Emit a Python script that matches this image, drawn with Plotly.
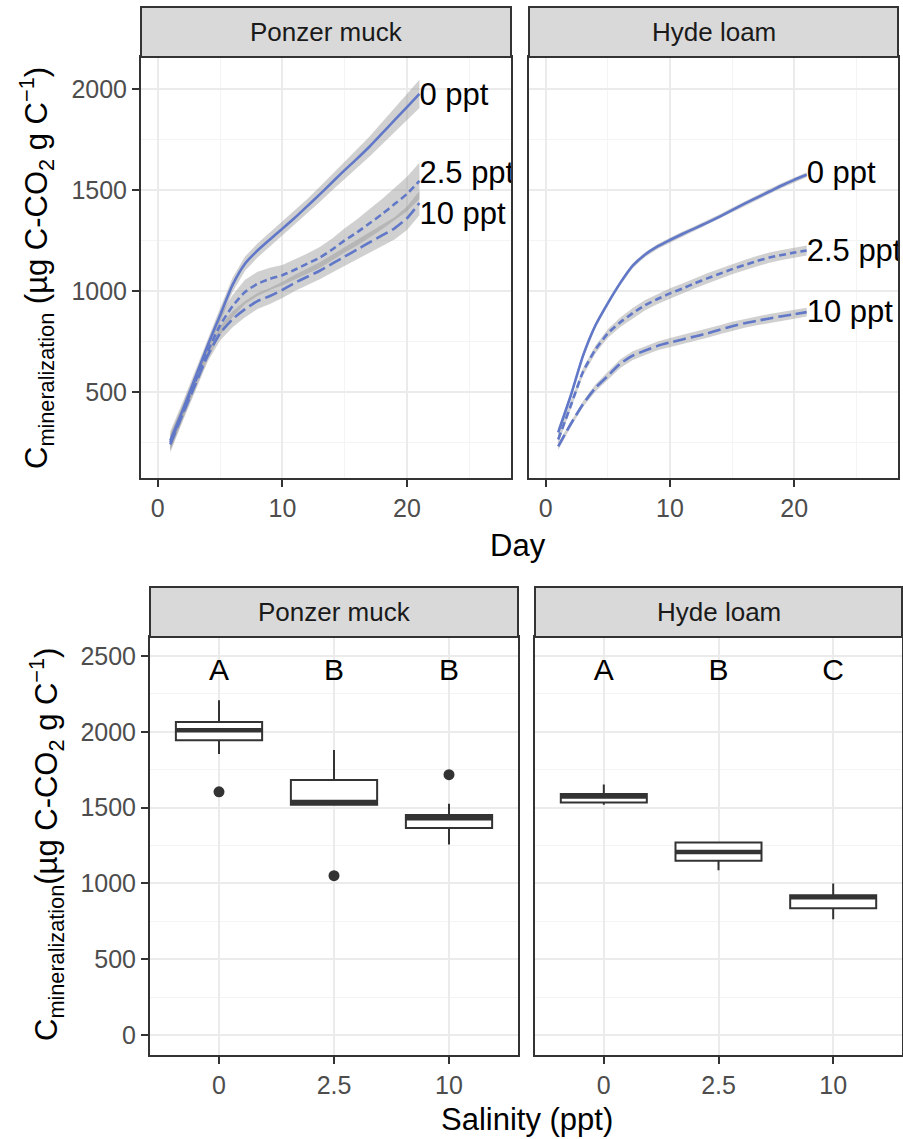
import plotly.graph_objects as go

# ---------------- data ----------------
days = list(range(1, 22))
salinity_labels = ["0 ppt", "2.5 ppt", "10 ppt"]

ponzer_0 = [260, 410, 570, 730, 880, 1030, 1135, 1200, 1255, 1308, 1362, 1420, 1478, 1538, 1598, 1655, 1715, 1780, 1845, 1910, 1975]
ponzer_25 = [250, 400, 550, 700, 830, 925, 995, 1035, 1060, 1078, 1105, 1135, 1165, 1205, 1250, 1290, 1335, 1380, 1430, 1480, 1545]
ponzer_10 = [240, 390, 535, 680, 790, 860, 910, 950, 975, 1005, 1040, 1070, 1100, 1135, 1170, 1205, 1240, 1275, 1310, 1360, 1435]
ponzer_0_se = [45, 40, 35, 35, 35, 35, 35, 35, 35, 35, 35, 35, 38, 40, 42, 45, 50, 55, 60, 65, 70]
ponzer_25_se = [40, 35, 35, 40, 50, 55, 60, 60, 55, 50, 50, 50, 52, 55, 60, 65, 70, 75, 80, 85, 90]
ponzer_10_se = [40, 35, 30, 30, 35, 40, 40, 40, 40, 40, 40, 40, 42, 44, 46, 48, 50, 52, 55, 58, 60]

hyde_0 = [300, 480, 680, 830, 940, 1040, 1125, 1180, 1220, 1252, 1282, 1310, 1338, 1368, 1400, 1432, 1462, 1492, 1522, 1550, 1575]
hyde_25 = [265, 430, 600, 710, 790, 845, 890, 930, 960, 988, 1012, 1038, 1062, 1085, 1108, 1128, 1148, 1165, 1178, 1190, 1200]
hyde_10 = [230, 340, 440, 520, 580, 640, 680, 705, 728, 745, 760, 775, 790, 808, 825, 840, 852, 864, 875, 885, 895]
hyde_0_se = [20, 15, 15, 12, 12, 12, 12, 12, 12, 12, 12, 12, 12, 12, 12, 12, 12, 12, 12, 12, 12]
hyde_25_se = [20, 18, 18, 20, 22, 24, 25, 25, 25, 25, 25, 25, 25, 25, 25, 25, 25, 25, 25, 25, 25]
hyde_10_se = [18, 15, 15, 18, 20, 22, 22, 22, 22, 22, 22, 22, 22, 22, 22, 22, 22, 22, 22, 22, 22]

label_day = 21
ponzer_label_y = [1960, 1574, 1372]
hyde_label_y = [1575, 1188, 885]

box_categories = ["0", "2.5", "10"]
ponzer_q1 = [1944, 1518, 1365]
ponzer_median = [2010, 1537, 1430]
ponzer_q3 = [2064, 1681, 1451]
ponzer_low = [1853, 1518, 1257]
ponzer_high = [2208, 1880, 1525]
ponzer_outlier_cat = [0, 1, 2]
ponzer_outlier_y = [1604, 1051, 1717]
ponzer_letters = ["A", "B", "B"]

hyde_q1 = [1533, 1149, 836]
hyde_median = [1573, 1207, 908]
hyde_q3 = [1590, 1269, 922]
hyde_low = [1518, 1087, 764]
hyde_high = [1652, 1269, 999]
hyde_letters = ["A", "B", "C"]
letter_y = 2390

soil_names = ["Ponzer muck", "Hyde loam"]

# ---------------- styling ----------------
W, H = 903, 1139
FONT = "Liberation Sans, Arial, sans-serif"
LINE_COL = "#6178C8"
RIBBON = "rgba(150,150,150,0.45)"
DASHES = ["solid", "7px,4px", "13px,5px"]
BORDER = "#333333"
GRID = "#EBEBEB"
MINOR = "#F4F4F4"
TICKFONT = dict(family=FONT, size=25, color="#4D4D4D")


def px_x(p):
    return p / W


def px_y(p):
    return 1 - p / H


fig = go.Figure()

# ---- top panels: cumulative curves ----
top_sets = [
    ("x", "y", [ponzer_0, ponzer_25, ponzer_10], [ponzer_0_se, ponzer_25_se, ponzer_10_se], ponzer_label_y),
    ("x2", "y2", [hyde_0, hyde_25, hyde_10], [hyde_0_se, hyde_25_se, hyde_10_se], hyde_label_y),
]
for xa, ya, series, ses, laby in top_sets:
    for vals, se in zip(series, ses):
        upper = [v + s for v, s in zip(vals, se)]
        lower = [v - s for v, s in zip(vals, se)]
        fig.add_trace(go.Scatter(x=days + days[::-1], y=upper + lower[::-1], fill="toself",
                                 fillcolor=RIBBON, line=dict(width=0), mode="lines",
                                 xaxis=xa, yaxis=ya, showlegend=False, hoverinfo="skip"))
    for vals, dash in zip(series, DASHES):
        fig.add_trace(go.Scatter(x=days, y=vals, mode="lines",
                                 line=dict(color=LINE_COL, width=2.6, dash=dash, shape="spline", smoothing=0.6),
                                 xaxis=xa, yaxis=ya, showlegend=False))
    fig.add_trace(go.Scatter(x=[label_day] * len(laby), y=laby, mode="text", text=salinity_labels,
                             textposition="middle right", cliponaxis=True,
                             textfont=dict(family=FONT, size=31, color="black"),
                             xaxis=xa, yaxis=ya, showlegend=False))

# ---- bottom panels: boxplots ----
BOXW = 0.75
pos = [i + 1 for i in range(len(box_categories))]
bottom_sets = [
    ("x3", "y3", ponzer_q1, ponzer_median, ponzer_q3, ponzer_low, ponzer_high, ponzer_letters),
    ("x4", "y4", hyde_q1, hyde_median, hyde_q3, hyde_low, hyde_high, hyde_letters),
]
for xa, ya, q1, med, q3, lo, hi, letters in bottom_sets:
    fig.add_trace(go.Box(x=pos, q1=q1, median=med, q3=q3, lowerfence=lo, upperfence=hi,
                         width=BOXW, whiskerwidth=0, fillcolor="white",
                         line=dict(color=BORDER, width=2), boxpoints=False,
                         xaxis=xa, yaxis=ya, showlegend=False))
    mx, my = [], []
    for p, m in zip(pos, med):
        mx += [p - BOXW / 2, p + BOXW / 2, None]
        my += [m, m, None]
    fig.add_trace(go.Scatter(x=mx, y=my, mode="lines", line=dict(color=BORDER, width=4.5),
                             xaxis=xa, yaxis=ya, showlegend=False))
    fig.add_trace(go.Scatter(x=pos, y=[letter_y] * len(pos), mode="text", text=letters,
                             textfont=dict(family=FONT, size=30, color="black"),
                             xaxis=xa, yaxis=ya, showlegend=False))

fig.add_trace(go.Scatter(x=[pos[c] for c in ponzer_outlier_cat], y=ponzer_outlier_y, mode="markers",
                         marker=dict(color=BORDER, size=11), xaxis="x3", yaxis="y3", showlegend=False))

# ---------------- layout ----------------
common_axis = dict(showline=True, mirror=True, linecolor=BORDER, linewidth=2, zeroline=False,
                   showgrid=True, gridcolor=GRID, gridwidth=1.5, tickfont=TICKFONT,
                   ticks="outside", ticklen=7, tickwidth=2, tickcolor=BORDER)

top_ydom = [px_y(478), px_y(57)]
bot_ydom = [px_y(1055), px_y(637)]
top_xdoms = [[px_x(141), px_x(511)], [px_x(529), px_x(898)]]
bot_xdoms = [[px_x(150), px_x(518)], [px_x(535), px_x(902)]]

xr_top = [-1.35, 28.35]
yr_top = [74, 2158]
yr_bot = [-132, 2625]

layout = dict(width=W, height=H, margin=dict(l=0, r=0, t=0, b=0), paper_bgcolor="white",
              plot_bgcolor="white", showlegend=False, font=dict(family=FONT))

layout["xaxis"] = dict(common_axis, domain=top_xdoms[0], range=xr_top, dtick=10, tick0=0, anchor="y",
                       minor=dict(dtick=5, showgrid=True, gridcolor=MINOR, gridwidth=1))
layout["xaxis2"] = dict(common_axis, domain=top_xdoms[1], range=xr_top, dtick=10, tick0=0, anchor="y2",
                        minor=dict(dtick=5, showgrid=True, gridcolor=MINOR, gridwidth=1))
layout["yaxis"] = dict(common_axis, domain=top_ydom, range=yr_top, dtick=500, tick0=0, anchor="x",
                       minor=dict(dtick=250, showgrid=True, gridcolor=MINOR, gridwidth=1))
layout["yaxis2"] = dict(common_axis, domain=top_ydom, range=yr_top, dtick=500, tick0=0, anchor="x2",
                        showticklabels=False, ticks="",
                        minor=dict(dtick=250, showgrid=True, gridcolor=MINOR, gridwidth=1))

layout["xaxis3"] = dict(common_axis, domain=bot_xdoms[0], range=[0.4, 3.6], tickvals=pos,
                        ticktext=box_categories, anchor="y3")
layout["xaxis4"] = dict(common_axis, domain=bot_xdoms[1], range=[0.4, 3.6], tickvals=pos,
                        ticktext=box_categories, anchor="y4")
layout["yaxis3"] = dict(common_axis, domain=bot_ydom, range=yr_bot, dtick=500, tick0=0, anchor="x3",
                        minor=dict(dtick=250, showgrid=True, gridcolor=MINOR, gridwidth=1))
layout["yaxis4"] = dict(common_axis, domain=bot_ydom, range=yr_bot, dtick=500, tick0=0, anchor="x4",
                        showticklabels=False, ticks="",
                        minor=dict(dtick=250, showgrid=True, gridcolor=MINOR, gridwidth=1))

shapes = []
annotations = []
strip_rows = [(top_xdoms, px_y(57), px_y(7)), (bot_xdoms, px_y(637), px_y(587))]
for doms, y0, y1 in strip_rows:
    for dom, name in zip(doms, soil_names):
        shapes.append(dict(type="rect", xref="paper", yref="paper", x0=dom[0], x1=dom[1], y0=y0, y1=y1,
                           fillcolor="#D9D9D9", line=dict(color=BORDER, width=2), layer="above"))
        annotations.append(dict(xref="paper", yref="paper", x=(dom[0] + dom[1]) / 2, y=(y0 + y1) / 2,
                                text=name, showarrow=False, xanchor="center", yanchor="middle",
                                font=dict(family=FONT, size=26, color="#1A1A1A")))

title_font = dict(family=FONT, size=31, color="black")
annotations.append(dict(xref="paper", yref="paper", x=px_x(518), y=px_y(546), text="Day", showarrow=False,
                        xanchor="center", yanchor="middle", font=title_font))
annotations.append(dict(xref="paper", yref="paper", x=px_x(527), y=px_y(1119), text="Salinity (ppt)",
                        showarrow=False, xanchor="center", yanchor="middle", font=title_font))
annotations.append(dict(xref="paper", yref="paper", x=px_x(36), y=px_y(268), textangle=-90, showarrow=False,
                        text="C<sub>mineralization</sub> (µg C-CO<sub>2</sub> g C<sup>−1</sup>)",
                        xanchor="center", yanchor="middle", font=title_font))
annotations.append(dict(xref="paper", yref="paper", x=px_x(46), y=px_y(845), textangle=-90, showarrow=False,
                        text="C<sub>mineralization</sub>(µg C-CO<sub>2</sub> g C<sup>−1</sup>)",
                        xanchor="center", yanchor="middle", font=title_font))

layout["shapes"] = shapes
layout["annotations"] = annotations
fig.update_layout(**layout)

fig.write_html("out.html")
